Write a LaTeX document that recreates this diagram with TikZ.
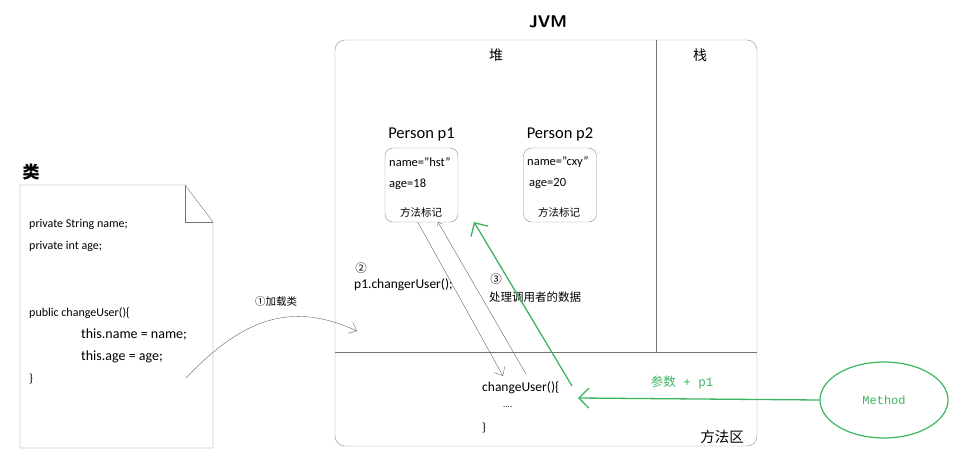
\documentclass[tikz,border=0pt]{standalone}
\usepackage{fontspec}
\setmainfont{Carlito}
\newfontfamily\cjk{Noto Sans CJK SC}
\newfontfamily\mono{Liberation Mono}
\usetikzlibrary{positioning,arrows.meta,shapes.geometric}
\definecolor{mgreen}{RGB}{60,180,95}

\begin{document}
\begin{tikzpicture}[
        x                   = 1pt,
        y                   = -1pt,
        every node/.style   = {inner sep=0pt, font=\fontsize{12}{14}\selectfont},
        code/.style         = {anchor=west},
        zh/.style           = {font=\cjk\fontsize{11.5}{13}\selectfont},
        head/.style         = {font=\cjk\bfseries\fontsize{17}{20}\selectfont},
        obj/.style          = {draw=gray!90, rounded corners=8pt, minimum width=73pt, minimum height=74pt},
        call/.style         = {draw=gray!80!black, -{Straight Barb[length=7pt,width=12pt]}},
        param/.style        = {draw=mgreen, line width=1.3pt, -{Straight Barb[length=10pt,width=20pt]}},
        %sloped
      ]
        \useasboundingbox (0,0) rectangle (964,460);

        % JVM
        \node[draw=gray!90, rounded corners=10pt, minimum width=422pt, minimum height=406pt] (jvm) at (546,243) {};
        \node[font=\sffamily\bfseries\fontsize{17}{20}\selectfont, text=black] (jvmtitle) at (548,22) {JVM};
        \draw[gray!90!black] (656,40) -- (656,352);
        \draw[gray!90!black] (335,352) -- (757,352);
        \node[zh, font=\cjk\fontsize{14}{16}\selectfont] (heap) at (496,55) {堆};
        \node[zh, font=\cjk\fontsize{14}{16}\selectfont] (stack) at (700,55) {栈};
        \node[zh, font=\cjk\fontsize{14.5}{16}\selectfont] (marea) at (722,437) {方法区};

        % objects on the heap
        \node[obj] (p1) at (421.5,185) {};
        \node[font=\fontsize{16.5}{18}\selectfont, above=6pt of p1] (p1name) {Person p1};
        \node[code, font=\fontsize{12.5}{14}\selectfont] (p1a) at (389,162) {name="hst"};
        \node[code, font=\fontsize{12.5}{14}\selectfont] (p1b) at (389,184) {age=18};
        \node[zh, font=\cjk\fontsize{10.5}{12}\selectfont] (p1c) at (421,212) {方法标记};

        \node[obj] (p2) at (560,185) {};
        \node[font=\fontsize{16.5}{18}\selectfont, above=6pt of p2] (p2name) {Person p2};
        \node[code, font=\fontsize{12.5}{14}\selectfont] (p2a) at (527,162) {name="cxy"};
        \node[code, font=\fontsize{12.5}{14}\selectfont] (p2b) at (529,184) {age=20};
        \node[zh, font=\cjk\fontsize{10.5}{12}\selectfont] (p2c) at (559,212) {方法标记};

        % class file
        \node[head] (cls) at (31,172) {类};
        \draw[gray!90!black] (20,185) -- (185,185) -- (213,222) -- (213,448) -- (20,448) -- cycle;
        \draw[gray!90!black] (185,185) -- (185,222) -- (213,222);
        \node[code] (l1) at (29,224) {private String name;};
        \node[code] (l2) at (29,246) {private int age;};
        \node[code] (l3) at (29,313) {public changeUser()\{};
        \node[code, font=\fontsize{14}{16}\selectfont] (l4) at (81,335) {this.name = name;};
        \node[code, font=\fontsize{14}{16}\selectfont] (l5) at (81,357) {this.age = age;};
        \node[code] (l6) at (29,379) {\}};

        % method area
        \node[code, font=\fontsize{13.5}{15}\selectfont] (m1) at (482,388) {changeUser()\{};
        \node[code, font=\fontsize{9}{10}\selectfont] (m2) at (503,407) {....};
        \node[code] (m3) at (482,428) {\}};

        % steps
        \coordinate (load0) at (186,378);
        \coordinate (load1) at (357,331);
        \draw[call] (load0) .. controls (250,310) and (300,305) .. (load1);
        \node[zh, font=\cjk\fontsize{10.5}{12}\selectfont] (step1) at (276,302) {①加载类};

        \node[zh] (step2) at (361,268) {②};
        \node[code, font=\fontsize{13.5}{15}\selectfont] (step2b) at (354,285) {p1.changerUser();};
        \coordinate (callin) at (503,376);
        \draw[call] (p1.south west) ++(33,0) coordinate (callout) -- (callin);

        \node[zh] (step3) at (496,279) {③};
        \node[code, zh] (step3b) at (489,297) {处理调用者的数据};
        \coordinate (backout) at (526,374);
        \coordinate (backin) at (438,222);
        \draw[call, -{Straight Barb[length=3pt,width=5pt]}] (backout) -- (backin);

        \coordinate (hit) at (572,386);
        \coordinate (mark) at (474,222);
        \draw[param] (hit) -- (mark);

        % caller
        \node[ellipse, draw=mgreen, line width=1.2pt, minimum width=128pt, minimum height=76pt,
              font=\mono\fontsize{12}{14}\selectfont, text=mgreen] (meth) at (884,400) {Method};
        \coordinate (arg) at (578,398);
        \draw[param] (meth.west) -- (arg);
        \node[text=mgreen, font=\mono\fontsize{12.5}{14}\selectfont] (argtxt) at (682,383) {{\cjk 参数} + p1};
    \end{tikzpicture}
\end{document}
